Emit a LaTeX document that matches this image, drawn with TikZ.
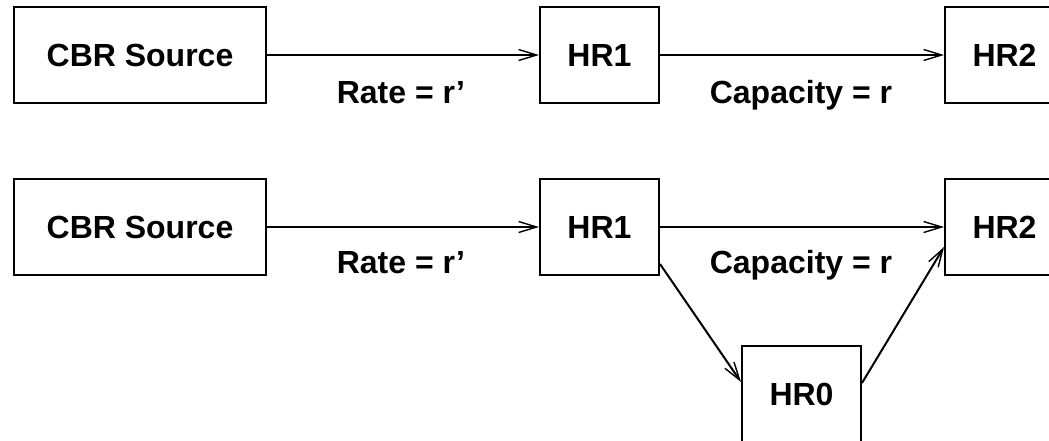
\documentclass[tikz,border=0pt]{standalone}
\usepackage{fontspec}
\setmainfont{Liberation Sans}
\usetikzlibrary{arrows.meta}
\begin{document}
\begin{tikzpicture}[x=1pt,y=-1pt,
  box/.style={draw=black,line width=2pt,minimum height=96pt,inner sep=0pt,font=\fontsize{32}{38}\selectfont\bfseries},
  hrbox/.style={box,minimum width=119pt},
  lbl/.style={anchor=base,inner sep=0pt,font=\fontsize{32}{38}\selectfont\bfseries},
  conn/.style={line width=2pt,-{Straight Barb[length=18pt,width=11pt,line width=1.4pt]}}]
\useasboundingbox (0,0) rectangle (1049,440);
\clip (0,0) rectangle (1049,440);
% top row
\node[box,minimum width=252pt] (cbrA) at (140,55) {CBR Source};
\node[hrbox] (hr1A) at (599.5,55) {HR1};
\node[hrbox] (hr2A) at (1004.5,55) {HR2};
\draw[conn] (cbrA.east) -- (hr1A.west);
\draw[conn] (hr1A.east) -- (hr2A.west);
\node[lbl] (rateA) at (401,103) {Rate = r’};
\node[lbl] (capA) at (801,103) {Capacity = r};
% bottom row
\node[box,minimum width=252pt] (cbrB) at (140,227) {CBR Source};
\node[hrbox] (hr1B) at (599.5,227) {HR1};
\node[hrbox] (hr2B) at (1004.5,227) {HR2};
\node[hrbox] (hr0) at (801.5,394) {HR0};
\draw[conn] (cbrB.east) -- (hr1B.west);
\draw[conn] (hr1B.east) -- (hr2B.west);
\node[lbl] (rateB) at (401,273) {Rate = r’};
\node[lbl] (capB) at (801,273) {Capacity = r};
\draw[conn] ([yshift=12pt]hr1B.south east) -- ([yshift=12pt]hr0.west);
\draw[conn] ([yshift=11pt]hr0.east) -- ([yshift=-20pt]hr2B.west);
\end{tikzpicture}
\end{document}
